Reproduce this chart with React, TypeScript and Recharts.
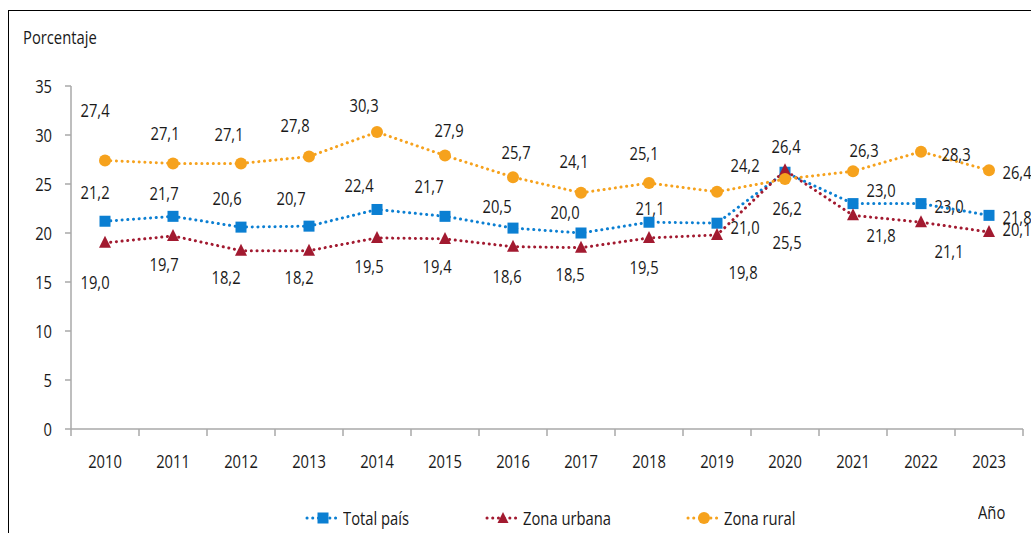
import { LabelList, Line, LineChart, XAxis, YAxis } from "recharts";

const years = ["2010", "2011", "2012", "2013", "2014", "2015", "2016", "2017", "2018", "2019", "2020", "2021", "2022", "2023"];
const totalPais = [21.2, 21.7, 20.6, 20.7, 22.4, 21.7, 20.5, 20.0, 21.1, 21.0, 26.2, 23.0, 23.0, 21.8];
const zonaUrbana = [19.0, 19.7, 18.2, 18.2, 19.5, 19.4, 18.6, 18.5, 19.5, 19.8, 26.4, 21.8, 21.1, 20.1];
const zonaRural = [27.4, 27.1, 27.1, 27.8, 30.3, 27.9, 25.7, 24.1, 25.1, 24.2, 25.5, 26.3, 28.3, 26.4];
const yTicks = [0, 5, 10, 15, 20, 25, 30, 35];

// label nudges (dx, dy) so the numbers sit where the original put them
const totalOffsets = [[-10, -29], [-9, -23], [-14, -29], [-18, -28], [-18, -25], [-16, -30], [-16, -22], [-16, -21], [1, -14], [28, 4], [2, 36], [28, -14], [28, 2], [28, 2]];
const urbanOffsets = [[-10, 39], [-9, 28], [-15, 26], [-10, 26], [-8, 28], [-8, 27], [-6, 29], [-11, 26], [-5, 29], [26, 37], [1, -24], [28, 20], [28, 29], [28, -3]];
const ruralOffsets = [[-10, -51], [-8, -31], [-12, -30], [-14, -32], [-13, -27], [4, -26], [3, -25], [-7, -32], [-5, -30], [28, -27], [2, 63], [11, -21], [35, 2], [28, 2]];

const data = years.map((year, i) => ({
  year,
  total: totalPais[i],
  urbana: zonaUrbana[i],
  rural: zonaRural[i],
}));

const BLUE = "#0b7fd2";
const RED = "#a21a30";
const ORANGE = "#f6a21d";
const AXIS = "#a8a8a8";
const INK = "#1a1a1a";
const FONT = '"Open Sans", "Liberation Sans", sans-serif';
const SQUEEZE = 0.82; // the original uses a condensed face

const W = 1031;
const H = 533;
const Y_AXIS_W = 71;
const RIGHT = 8;
const BAND = (W - Y_AXIS_W - RIGHT) / years.length;

const fmt = (v: number) => v.toFixed(1).replace(".", ",");

function NarrowText({ x, y, anchor = "middle", children }: { x: number; y: number; anchor?: string; children: any }) {
  return (
    <g transform={`translate(${x},${y}) scale(${SQUEEZE},1)`}>
      <text x={0} y={0} textAnchor={anchor} dominantBaseline="central" fontSize={18} fontFamily={FONT} fill={INK}>
        {children}
      </text>
    </g>
  );
}

function squareDot(props: any) {
  const { cx, cy, index } = props;
  if (cx == null || cy == null) return <g key={index} />;
  return <rect key={index} x={cx - 5.5} y={cy - 5.5} width={11} height={11} fill={BLUE} />;
}

function triangleDot(props: any) {
  const { cx, cy, index } = props;
  if (cx == null || cy == null) return <g key={index} />;
  return <path key={index} d={`M${cx},${cy - 7} L${cx + 6},${cy + 5} L${cx - 6},${cy + 5} Z`} fill={RED} />;
}

function circleDot(props: any) {
  const { cx, cy, index } = props;
  if (cx == null || cy == null) return <g key={index} />;
  return <circle key={index} cx={cx} cy={cy} r={6} fill={ORANGE} />;
}

function makeLabel(offsets: number[][]) {
  return (props: any) => {
    const { x, y, value, index } = props;
    const [dx, dy] = offsets[index] ?? [0, -25];
    return <NarrowText x={x + dx} y={y + dy}>{fmt(value)}</NarrowText>;
  };
}

function YearTick(props: any) {
  const { x, y, payload, index } = props;
  return (
    <g>
      {index === 0 && <line x1={x - BAND / 2} x2={x - BAND / 2} y1={y} y2={y + 7} stroke={AXIS} strokeWidth={1.5} />}
      <line x1={x + BAND / 2} x2={x + BAND / 2} y1={y} y2={y + 7} stroke={AXIS} strokeWidth={1.5} />
      <NarrowText x={x} y={y + 32}>{payload.value}</NarrowText>
    </g>
  );
}

function ValueTick(props: any) {
  const { x, y, payload } = props;
  return <NarrowText x={x} y={y} anchor="end">{payload.value}</NarrowText>;
}

const dotted = { strokeWidth: 3, strokeDasharray: "0.1 5.6", strokeLinecap: "round" as const };

function LegendIcon({ color, kind }: { color: string; kind: "square" | "triangle" | "circle" }) {
  return (
    <svg width={36} height={14} style={{ display: "block" }}>
      <line x1={2} x2={34} y1={7} y2={7} stroke={color} {...dotted} />
      {kind === "square" && <rect x={12.5} y={1.5} width={11} height={11} fill={color} />}
      {kind === "triangle" && <path d="M18,1 L23.5,12 L12.5,12 Z" fill={color} />}
      {kind === "circle" && <circle cx={18} cy={7} r={6} fill={color} />}
    </svg>
  );
}

const legendItems = [
  { name: "Total país", color: BLUE, kind: "square" as const, left: 305 },
  { name: "Zona urbana", color: RED, kind: "triangle" as const, left: 485 },
  { name: "Zona rural", color: ORANGE, kind: "circle" as const, left: 686 },
];

const narrowHtml = { fontSize: 18, lineHeight: "22px", transform: `scaleX(${SQUEEZE})`, transformOrigin: "left center", whiteSpace: "nowrap" as const };

export default function App() {
  return (
    <div style={{ position: "relative", width: W, height: H, overflow: "hidden", fontFamily: FONT, color: INK }}>
      <style>{"body { margin: 0; }"}</style>
      <div
        style={{
          position: "absolute",
          left: 8,
          top: 10,
          width: W,
          height: H,
          borderLeft: "1px solid #000",
          borderTop: "1px solid #000",
          boxSizing: "border-box",
        }}
      />
      <div style={{ position: "absolute", left: 23, top: 26, ...narrowHtml }}>Porcentaje</div>
      <LineChart
        width={W}
        height={H}
        data={data}
        margin={{ top: 86, right: RIGHT, bottom: 74, left: 0 }}
        style={{ position: "absolute", left: 0, top: 0 }}
      >
        <XAxis
          dataKey="year"
          height={30}
          stroke={AXIS}
          strokeWidth={1.5}
          tickLine={false}
          tickSize={0}
          tickMargin={0}
          interval={0}
          padding={{ left: BAND / 2, right: BAND / 2 }}
          tick={<YearTick />}
        />
        <YAxis
          width={Y_AXIS_W}
          domain={[0, 35]}
          ticks={yTicks}
          stroke={AXIS}
          strokeWidth={1.5}
          tickSize={6}
          tickMargin={13}
          tick={<ValueTick />}
        />
        <Line dataKey="total" stroke={BLUE} {...dotted} dot={squareDot} activeDot={false} isAnimationActive={false}>
          <LabelList dataKey="total" content={makeLabel(totalOffsets)} />
        </Line>
        <Line dataKey="urbana" stroke={RED} {...dotted} dot={triangleDot} activeDot={false} isAnimationActive={false}>
          <LabelList dataKey="urbana" content={makeLabel(urbanOffsets)} />
        </Line>
        <Line dataKey="rural" stroke={ORANGE} {...dotted} dot={circleDot} activeDot={false} isAnimationActive={false}>
          <LabelList dataKey="rural" content={makeLabel(ruralOffsets)} />
        </Line>
      </LineChart>
      {legendItems.map((item) => (
        <div
          key={item.name}
          style={{ position: "absolute", left: item.left, top: 507, display: "flex", alignItems: "center", gap: 2 }}
        >
          <LegendIcon color={item.color} kind={item.kind} />
          <span style={narrowHtml}>{item.name}</span>
        </div>
      ))}
      <div style={{ position: "absolute", left: 978, top: 501, ...narrowHtml }}>Año</div>
    </div>
  );
}
